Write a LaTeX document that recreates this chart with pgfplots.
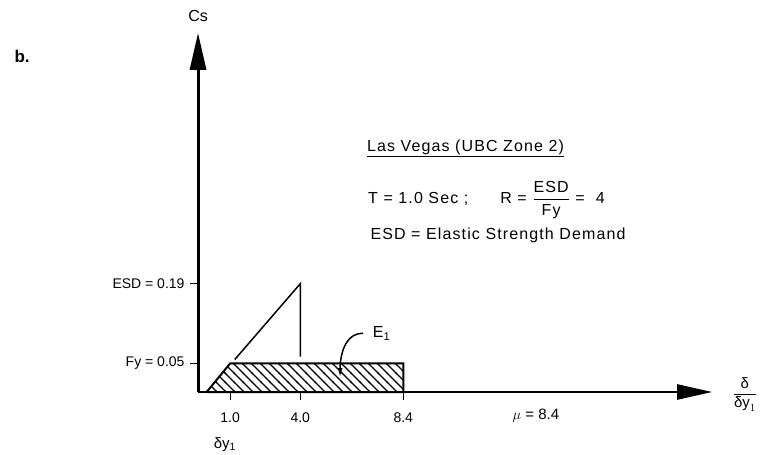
\documentclass[border=0pt]{standalone}
\usepackage{fontspec}
\setmainfont{Liberation Sans}
\newfontfamily\lsfont[LetterSpace=7]{Liberation Sans}
\usepackage{pgfplots}
\pgfplotsset{compat=1.18}
\usetikzlibrary{arrows.meta,patterns.meta}
\tikzdeclarepattern{name=hatch, type=uncolored,
  bounding box={(-1pt,-1pt) and (10pt,10pt)}, tile size={(9pt,9pt)},
  code={\draw[line width=1.2pt] (-1pt,10pt) -- (10pt,-1pt);}}
\begin{document}
\begin{tikzpicture}
\begin{axis}[
  x=23.4pt, y=570pt,
  xmin=-0.37, xmax=21.6, ymin=0, ymax=0.63,
  axis lines=left,
  clip=false,
  x axis line style={line width=2.4pt, -{Triangle[length=35pt,width=15pt]}},
  y axis line style={line width=3pt, -{Triangle[length=37pt,width=16pt]}},
  xtick={1,4,8.4}, xticklabels={1.0,4.0,8.4},
  ytick={0.05,0.19}, yticklabels={Fy = 0.05, ESD = 0.19},
  tick style={black, line width=1.1pt},
  tick align=outside,
  major tick length=8pt,
  /pgf/number format/assume math mode=true,
  xticklabel style={font=\fontsize{14}{16}\selectfont, yshift=-9pt},
  yticklabel style={font=\fontsize{14}{16}\selectfont, xshift=-2pt},
]
\addplot[draw=black, line width=2pt, pattern=hatch]
  coordinates {(0,0) (1,0.05) (8.4,0.05) (8.4,0) (0,0)};
\addplot[black, line width=1.5pt] coordinates {(1.2,0.057) (4,0.19) (4,0.062)};

\draw[line width=1.5pt, -{Latex[length=9pt,width=5pt]}]
  (axis cs:6.68,0.103) to[out=180,in=90] (axis cs:5.7,0.026);
\node[anchor=west, font=\fontsize{16}{18}\selectfont] at (axis cs:6.95,0.103) {E\textsubscript{1}};

\node[anchor=west, font=\fontsize{16}{18}\selectfont\lsfont] at (axis cs:6.7,0.428) {\underline{Las Vegas (UBC Zone 2)}};
\node[anchor=west, font=\fontsize{16}{18}\selectfont\lsfont] at (axis cs:6.75,0.337)
  {T = 1.0 Sec ;\hspace{2em}R = $\displaystyle\frac{\mbox{ESD}}{\mbox{Fy}}$ = \ 4};
\node[anchor=west, font=\fontsize{16}{18}\selectfont\lsfont] at (axis cs:6.85,0.275) {ESD = Elastic Strength Demand};

\node[font=\fontsize{15}{17}\selectfont] at (axis cs:0.78,-0.092) {δy\textsubscript{1}};
\node[font=\fontsize{15}{17}\selectfont] at (axis cs:14.07,-0.042) {$\mu$ = 8.4};
\node[font=\fontsize{15}{17}\selectfont] at (axis cs:23.0,-0.004) {$\displaystyle\frac{\mbox{δ}}{\mbox{δy}_{1}}$};
\node[font=\fontsize{16}{18}\selectfont] at (axis cs:-0.37,0.66) {Cs};
\node[font=\fontsize{17}{19}\selectfont\bfseries] at (axis cs:-7.89,0.588) {b.};

\coordinate (BL) at (axis cs:-8.833,-0.1088);
\coordinate (TR) at (axis cs:23.73,0.6877);
\end{axis}
\pgfresetboundingbox
\path[use as bounding box] (BL) rectangle (TR);
\end{tikzpicture}
\end{document}
